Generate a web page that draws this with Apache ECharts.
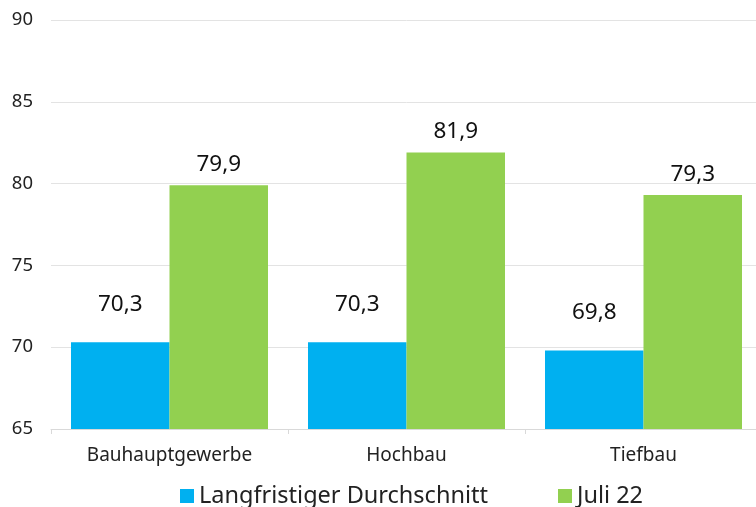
<!DOCTYPE html>
<html>
<head>
<meta charset="utf-8">
<script src="https://cdn.jsdelivr.net/npm/echarts@6/dist/echarts.min.js"></script>
<style>
  html, body { margin: 0; padding: 0; background: #fff; overflow: hidden; }
  #chart { width: 762px; height: 507px; }
</style>
</head>
<body>
<div id="chart"></div>
<script>
const categories = ['Bauhauptgewerbe', 'Hochbau', 'Tiefbau'];
const seriesNames = ['Langfristiger Durchschnitt', 'Juli 22'];
const averageValues = [70.3, 70.3, 69.8];
const julyValues = [79.9, 81.9, 79.3];

const chart = echarts.init(document.getElementById('chart'), null, { renderer: 'canvas' });

const fmt = (p) => String(p.value.toFixed(1)).replace('.', ',');
const fontFamily = '"Noto Sans", sans-serif';

chart.setOption({
  animation: false,
  textStyle: { fontFamily: fontFamily },
  grid: { left: 51, right: 0, top: 20, bottom: 78 },
  legend: {
    data: seriesNames,
    left: 175,
    top: 479,
    itemWidth: 14,
    itemHeight: 14,
    itemGap: 70,
    icon: 'rect',
    textStyle: { fontSize: 23.5, color: '#222', fontFamily: fontFamily }
  },
  xAxis: {
    type: 'category',
    data: categories,
    axisLine: { lineStyle: { color: '#d9d9d9', width: 1 } },
    axisTick: { show: true, length: 5, lineStyle: { color: '#d9d9d9' } },
    axisLabel: { color: '#222', fontSize: 19, margin: 17, fontFamily: fontFamily }
  },
  yAxis: {
    type: 'value',
    min: 65,
    max: 90,
    interval: 5,
    axisLine: { show: false },
    axisTick: { show: false },
    splitLine: { lineStyle: { color: '#e3e3e3', width: 1 } },
    axisLabel: { color: '#222', fontSize: 18.5, margin: 18, fontFamily: fontFamily }
  },
  series: [
    {
      name: seriesNames[0],
      type: 'bar',
      data: averageValues,
      barWidth: 98.5,
      barGap: '0%',
      itemStyle: { color: '#00b0f0' },
      label: { show: true, position: 'top', distance: 26, fontSize: 22.5, color: '#111', formatter: fmt, fontFamily: fontFamily }
    },
    {
      name: seriesNames[1],
      type: 'bar',
      data: julyValues,
      barWidth: 98.5,
      barGap: '0%',
      itemStyle: { color: '#92d050' },
      label: { show: true, position: 'top', distance: 9, fontSize: 22.5, color: '#111', formatter: fmt, fontFamily: fontFamily }
    }
  ]
});

window.addEventListener('resize', () => chart.resize());
</script>
</body>
</html>
